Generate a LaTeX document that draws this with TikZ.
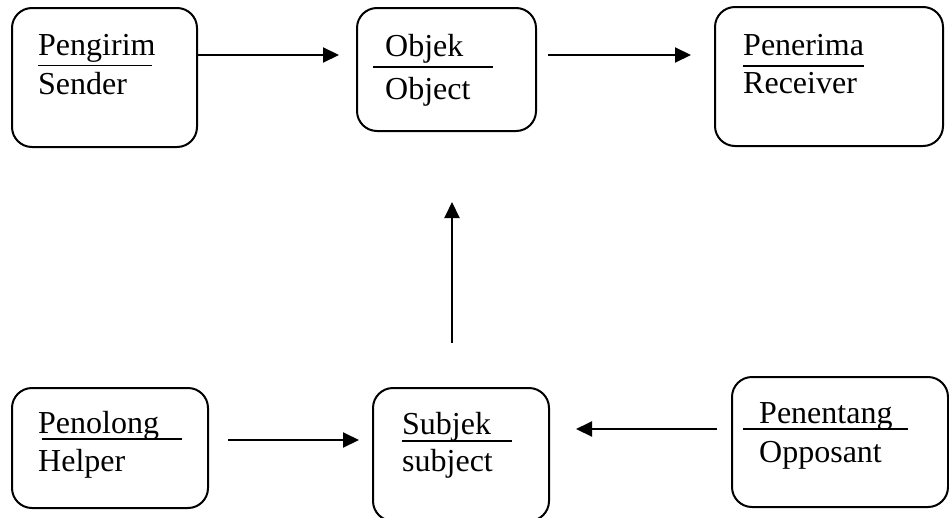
\documentclass[tikz,border=0pt]{standalone}
\usepackage{fontspec}
\setmainfont{Liberation Serif}
\usetikzlibrary{arrows.meta}
\tikzset{
  box/.style={draw, line width=2pt, rounded corners=20pt},
  lbl/.style={anchor=base west, inner sep=0pt, font=\fontsize{32}{38}\selectfont},
  rule/.style={line width=1.6pt},
  conn/.style={line width=2pt, -{Triangle[length=16pt,width=15pt]}}
}
\begin{document}
\begin{tikzpicture}[x=1pt,y=-1pt]
\useasboundingbox (0,0) rectangle (949,517);
% boxes
\draw[box] (12,8) rectangle (197,147) node[pos=.5] (sender) {};
\draw[box] (357,8) rectangle (536,131) node[pos=.5] (object) {};
\draw[box] (715,7) rectangle (943,146) node[pos=.5] (receiver) {};
\draw[box] (12,388) rectangle (208,508) node[pos=.5] (helper) {};
\draw[box] (373,388) rectangle (549,521) node[pos=.5] (subject) {};
\draw[box] (732,377) rectangle (948,507) node[pos=.5] (opposant) {};
% labels
\node[lbl] (t1a) at (38,55) {Pengirim};
\node[lbl] (t1b) at (38,94) {Sender};
\draw[rule] (38,65.5) -- (152,65.5);
\node[lbl] (t2a) at (385,56) {Objek};
\node[lbl] (t2b) at (385,99) {Object};
\draw[rule] (373,67) -- (493,67);
\node[lbl] (t3a) at (743,55) {Penerima};
\node[lbl] (t3b) at (743,93) {Receiver};
\draw[rule] (743,66) -- (864,66);
\node[lbl] (t4a) at (38,433) {Penolong};
\node[lbl] (t4b) at (38,471) {Helper};
\draw[rule] (42,439) -- (182,439);
\node[lbl] (t5a) at (402,434) {Subjek};
\node[lbl] (t5b) at (402,471) {subject};
\draw[rule] (402,441) -- (512,441);
\node[lbl] (t6a) at (759,423) {Penentang};
\node[lbl] (t6b) at (759,462) {Opposant};
\draw[rule] (743,429) -- (908,429);
% connector end points
\coordinate (a1s) at (197,55);
\coordinate (a1e) at (339,55);
\coordinate (a2s) at (548,55);
\coordinate (a2e) at (691,55);
\coordinate (a3s) at (452,343);
\coordinate (a3e) at (452,202);
\coordinate (a4s) at (228,440);
\coordinate (a4e) at (359,440);
\coordinate (a5s) at (717,429);
\coordinate (a5e) at (576,429);
\draw[conn] (a1s) -- (a1e);
\draw[conn] (a2s) -- (a2e);
\draw[conn] (a3s) -- (a3e);
\draw[conn] (a4s) -- (a4e);
\draw[conn] (a5s) -- (a5e);
\end{tikzpicture}
\end{document}
